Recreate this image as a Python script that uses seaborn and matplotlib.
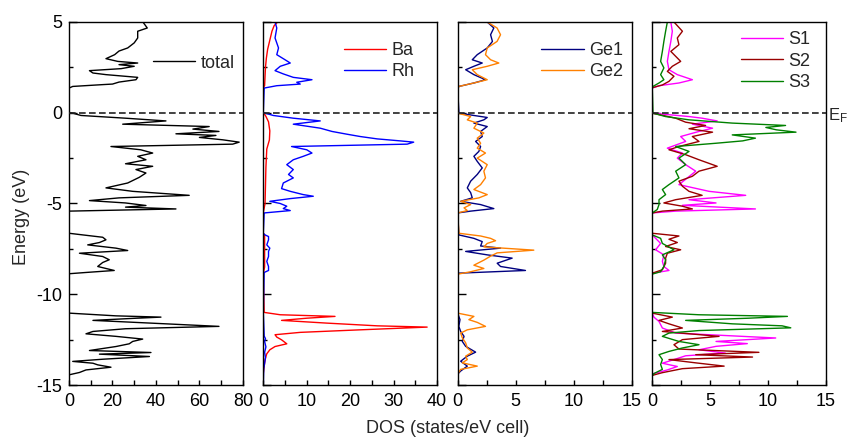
import seaborn as sns
import matplotlib.pyplot as plt
from matplotlib.ticker import MultipleLocator

# total DOS (energy in eV, DOS in states/eV cell)
total_E = [5.0, 4.67, 4.49, 4.12, 3.85, 3.57, 3.4, 3.2, 2.98, 2.83,
           2.74, 2.65, 2.56, 2.43, 2.32, 2.19, 2.1, 1.95, 1.82, 1.69,
           1.58, 1.55, 1.45, 1.36, 0.02, -0.02, -0.15, -0.3, -0.45, -0.63,
           -0.76, -0.9, -1.03, -1.16, -1.25, -1.36, -1.49, -1.62, -1.73, -1.86,
           -2.04, -2.22, -2.4, -2.59, -2.81, -2.95, -3.13, -3.32, -3.56, -3.87,
           -4.14, -4.33, -4.55, -4.69, -4.84, -4.97, -5.11, -5.2, -5.3, -5.42,
           -6.64, -6.73, -6.86, -7.0, -7.15, -7.28, -7.46, -7.59, -7.74, -7.92,
           -8.1, -8.25, -8.47, -8.69, -8.8, -8.87, -11.04, -11.19, -11.26, -11.33,
           -11.44, -11.63, -11.77, -11.9, -12.05, -12.18, -12.32, -12.47, -12.6, -12.73,
           -12.88, -13.1, -13.21, -13.3, -13.43, -13.58, -13.7, -13.8, -13.89, -14.02,
           -14.17, -14.31, -14.44, -15.0]
total_dos = [34, 36, 31.6, 31.6, 30, 27, 23, 21, 17, 22.4,
             31.6, 23, 30, 24, 9.4, 11, 17, 31.6, 30.8, 23,
             20, 15.5, 1.7, 0, 0, 1.7, 5.5, 26, 44.6, 24.7,
             64.5, 57, 69, 49.2, 67.6, 60, 70.7, 78.3, 75.3, 19.3,
             33, 38.5, 31.6, 35.4, 26, 38.5, 30.8, 35.4, 32.3, 27,
             17, 29.3, 55.3, 23, 9.4, 26, 35.4, 26, 49.2, 0,
             0, 6.3, 15.5, 17, 14, 8.6, 21.6, 27, 4.8, 15.5,
             18.5, 15.5, 13.2, 20.8, 7.8, 0, 0, 21.6, 42.3, 29.3,
             11, 44.6, 69, 26, 11, 7.8, 21.6, 33.9, 29.3, 27.7,
             21.6, 9.4, 37.7, 14, 37, 15.5, 1.7, 11, 13.2, 19.3,
             7.8, 4.8, 0, 0]

ba_E = [5.0, 4.8, 4.5, 4.0, 3.5, 3.0, 2.5, 2.0, 1.5, 1.36,
        0.02, -0.2, -0.5, -1.0, -1.5, -2.0, -3.0, -4.0, -5.0, -5.5,
        -6.64, -6.75, -7.5, -8.5, -8.85, -11.0, -11.13, -11.22, -11.32, -11.44,
        -11.59, -11.74, -11.81, -11.96, -12.1, -12.23, -12.36, -12.51, -12.73, -12.88,
        -13.06, -13.28, -13.61, -13.98, -14.35, -15.0]
ba_dos = [3.3, 2.5, 2.0, 1.5, 1.0, 0.7, 0.5, 0.4, 0.3, 0,
          0, 0.6, 1.2, 1.5, 1.4, 0.8, 0.6, 0.5, 0.4, 0,
          0, 0.3, 0.3, 0.3, 0, 0.2, 3.9, 16.5, 10, 4.2,
          14.6, 26.2, 37.7, 22.3, 8.5, 2.7, 3.1, 4.2, 5.4, 2.7,
          1.5, 0.8, 0.4, 0.2, 0, 0]

rh_E = [5.0, 4.67, 4.12, 3.57, 3.2, 2.92, 2.74, 2.56, 2.32, 2.14,
        1.95, 1.82, 1.68, 1.58, 1.49, 1.36, 0.02, -0.02, -0.15, -0.3,
        -0.45, -0.63, -0.85, -1.03, -1.18, -1.31, -1.44, -1.55, -1.62, -1.73,
        -1.86, -2.04, -2.22, -2.4, -2.59, -2.86, -3.13, -3.4, -3.59, -3.87,
        -4.18, -4.33, -4.51, -4.6, -4.73, -4.88, -5.0, -5.15, -5.28, -5.39,
        -5.52, -6.64, -6.73, -6.82, -7.0, -7.28, -7.46, -7.64, -7.92, -8.19,
        -8.47, -8.69, -8.8, -11.0, -12.3, -12.45, -12.6, -12.9, -13.2, -13.5,
        -13.8, -14.1, -15.0]
rh_dos = [2.7, 3.1, 2.7, 3.5, 3.1, 5.0, 6.2, 3.9, 2.7, 4.6,
          6.9, 11.2, 7.7, 8.5, 3.1, 0.2, 0, 0.4, 2.3, 6.9,
          13.1, 6.9, 13.1, 15.8, 19.2, 22.3, 26.2, 31.5, 34.6, 33.1,
          6.5, 10, 11.2, 9.2, 6.9, 5.4, 6.9, 5.8, 6.9, 4.6,
          4.2, 6.2, 9.2, 11.5, 6.2, 1.5, 3.9, 5.4, 4.6, 6.2,
          0.2, 0, 0.4, 1.2, 1.2, 0.8, 1.5, 1.2, 1.2, 0.8,
          1.2, 1.2, 0.2, 0, 0.2, 0.5, 0.3, 0.6, 0.3, 0.5,
          0.3, 0.1, 0]

ge1_E = [5.0, 4.67, 4.3, 3.93, 3.57, 3.2, 2.92, 2.74, 2.56, 2.37,
         2.1, 1.82, 1.64, 1.45, 1.33, -0.02, -0.15, -0.26, -0.39, -0.57,
         -0.76, -1.03, -1.31, -1.58, -1.86, -2.13, -2.4, -2.68, -3.04, -3.4,
         -3.77, -4.14, -4.4, -4.69, -4.88, -5.06, -5.28, -5.42, -5.52, -6.73,
         -6.92, -7.1, -7.34, -7.46, -7.64, -7.83, -8.01, -8.29, -8.47, -8.69,
         -8.84, -11.04, -11.4, -11.77, -12.05, -12.32, -12.6, -12.87, -13.19, -13.41,
         -13.69, -13.96, -14.23, -14.4, -15.0]
ge1_dos = [2.55, 3.12, 2.84, 3.0, 2.55, 1.69, 1.26, 2.12, 1.4, 0.69,
           1.4, 2.4, 1.4, 0.11, 0, 0.11, 1.4, 2.55, 2.26, 1.4,
           2.55, 1.98, 2.12, 1.55, 1.98, 1.83, 1.4, 1.69, 2.12, 1.69,
           1.12, 0.83, 1.12, 1.26, 0.26, 1.98, 3.12, 1.12, 0, 0.1,
           1.4, 2.12, 1.98, 3.7, 0.69, 2.55, 4.7, 3.41, 3.7, 5.85,
           0, 0, 0.2, 0.1, 0.26, 0.55, 0.4, 0.69, 1.55, 0.83,
           0.26, 0.83, 0.26, 0, 0]

ge2_E = [5.0, 4.67, 4.3, 3.93, 3.57, 3.2, 2.92, 2.74, 2.56, 2.37,
         2.1, 1.82, 1.64, 1.45, 1.33, -0.02, -0.21, -0.39, -0.57, -0.85,
         -1.12, -1.4, -1.68, -1.95, -2.22, -2.5, -2.86, -3.22, -3.59, -3.96,
         -4.23, -4.51, -4.69, -4.88, -5.06, -5.24, -5.39, -5.52, -6.64, -6.79,
         -6.92, -7.05, -7.2, -7.39, -7.57, -7.72, -7.9, -8.12, -8.4, -8.58,
         -8.76, -8.89, -11.04, -11.22, -11.4, -11.55, -11.77, -11.96, -12.14, -12.4,
         -12.68, -12.96, -13.19, -13.41, -13.6, -13.78, -13.96, -14.14, -14.4, -15.0]
ge2_dos = [2.55, 3.4, 3.7, 3.4, 2.55, 2.4, 2.84, 3.55, 2.55, 1.26,
           1.69, 2.55, 1.4, 0.11, 0, 0, 1.12, 0.83, 1.69, 1.4,
           2.26, 1.69, 1.98, 1.69, 2.4, 1.69, 2.55, 2.26, 2.4, 1.98,
           1.4, 2.55, 1.83, 0.26, 1.12, 0.55, 0.83, 0, 0.11, 1.98,
           2.84, 3.27, 2.55, 2.26, 6.57, 3.41, 2.84, 2.26, 1.4, 2.26,
           1.12, 0.03, 0, 1.4, 0.97, 1.69, 2.4, 0.83, 0.26, 0.4,
           0.69, 0.83, 1.26, 0.69, 0.83, 0.4, 1.69, 0.26, 0, 0]

s1_E = [5.0, 4.49, 3.93, 3.38, 2.83, 2.37, 2.1, 1.82, 1.64, 1.49,
        1.36, -0.02, -0.21, -0.3, -0.45, -0.63, -0.85, -1.03, -1.31, -1.58,
        -1.95, -2.22, -2.5, -2.86, -3.22, -3.59, -3.96, -4.33, -4.55, -4.79,
        -4.97, -5.1, -5.3, -5.42, -5.52, -6.73, -7.2, -7.55, -7.83, -8.19,
        -8.47, -8.69, -8.84, -11.04, -11.26, -11.5, -11.86, -12.14, -12.41, -12.6,
        -12.72, -12.87, -13.06, -13.24, -13.39, -13.57, -13.8, -13.98, -14.17, -14.39,
        -15.0]
s1_dos = [1.6, 1.73, 1.6, 1.44, 1.3, 1.44, 2.16, 3.46, 2.3, 0.58,
          0, 0, 3.17, 4.3, 5.6, 3.46, 5.2, 4.03, 2.45, 2.88,
          1.3, 2.6, 2.16, 2.88, 3.75, 3.03, 2.3, 4.9, 8.06, 3.17,
          5.5, 2.6, 8.9, 2.02, 0, 0, 0.72, 0.29, 1.0, 0.87,
          1.0, 1.44, 0, 0, 0.14, 0.58, 0.87, 2.02, 10.65, 5.5,
          8.2, 5.5, 4.03, 6.3, 2.88, 2.02, 0.87, 2.16, 1.3, 0,
          0]

s2_E = [5.0, 4.49, 4.12, 3.75, 3.38, 2.83, 2.56, 2.28, 2.01, 1.73,
        1.53, 1.38, -0.02, -0.3, -0.52, -0.7, -0.88, -1.07, -1.31, -1.58,
        -1.86, -2.04, -2.31, -2.59, -2.95, -3.22, -3.5, -3.77, -4.05, -4.33,
        -4.55, -4.79, -4.97, -5.15, -5.3, -5.42, -5.52, -6.64, -6.79, -6.97,
        -7.15, -7.37, -7.55, -7.74, -8.01, -8.29, -8.65, -8.84, -11.04, -11.26,
        -11.44, -11.63, -11.86, -12.05, -12.32, -12.5, -12.78, -13.02, -13.2, -13.33,
        -13.46, -13.6, -13.78, -13.96, -14.1, -14.32, -14.47, -15.0]
s2_dos = [1.87, 2.6, 2.16, 2.3, 1.6, 2.45, 1.73, 1.3, 1.87, 1.44,
          0.87, 0, 0, 2.02, 2.88, 4.6, 3.17, 5.2, 3.46, 4.03,
          2.3, 1.44, 2.88, 4.03, 5.6, 4.03, 3.46, 2.3, 2.6, 3.17,
          4.3, 2.02, 1.0, 2.6, 3.46, 0.87, 0, 0, 2.3, 1.44,
          2.16, 1.15, 2.45, 1.3, 1.15, 1.15, 0.87, 0, 0, 1.73,
          0.58, 1.44, 2.6, 0.87, 5.76, 2.6, 1.87, 2.3, 9.2, 3.75,
          8.65, 1.44, 3.75, 6.2, 2.6, 0.87, 0, 0]

s3_E = [5.0, 4.49, 3.93, 3.38, 2.83, 2.47, 2.1, 1.82, 1.64, 1.45,
        1.33, -0.02, -0.21, -0.39, -0.57, -0.7, -0.81, -0.94, -1.07, -1.22,
        -1.4, -1.55, -1.68, -1.86, -2.13, -2.5, -2.86, -3.22, -3.59, -3.96,
        -4.23, -4.51, -4.79, -5.06, -5.33, -5.52, -6.73, -6.92, -7.2, -7.55,
        -7.83, -8.1, -8.47, -8.76, -8.89, -11.0, -11.13, -11.22, -11.32, -11.44,
        -11.63, -11.74, -11.85, -12.0, -12.14, -12.32, -12.6, -12.78, -12.96, -13.15,
        -13.33, -13.6, -13.87, -14.14, -14.37, -14.5, -15.0]
s3_dos = [1.3, 1.15, 1.0, 0.87, 0.72, 1.0, 0.72, 1.0, 0.58, 0.06,
          0, 0.06, 1.15, 3.17, 6.9, 11.5, 9.8, 10.7, 12.4, 6.9,
          8.9, 7.8, 5.5, 2.02, 3.17, 2.3, 2.88, 2.02, 2.3, 1.44,
          0.87, 1.15, 0.58, 0.58, 0.43, 0, 0, 0.72, 0.87, 1.87,
          0.87, 1.15, 1.0, 0.72, 0, 0, 4.03, 11.66, 8.3, 2.88,
          6.9, 11.2, 11.95, 4.03, 1.44, 0.87, 2.3, 4.03, 2.6, 1.44,
          0.58, 0.87, 0.72, 0.87, 0.14, 0, 0]

sns.set_style('ticks')
plt.rcParams['font.family'] = ['Liberation Sans', 'DejaVu Sans']
plt.rcParams['axes.unicode_minus'] = False
plt.rcParams['mathtext.default'] = 'regular'

fig = plt.figure(figsize=(8.48, 4.4), dpi=100)

# (left, xmax, major, minor, legend anchor, curves)
panels = [
    (0.0814, 80, 20, 10, (0.483, 0.91),
     [(total_dos, total_E, 'total', 'black')]),
    (0.3105, 40, 10, 5, (0.465, 0.945),
     [(ba_dos, ba_E, 'Ba', '#ff0000'), (rh_dos, rh_E, 'Rh', '#0000ff')]),
    (0.5397, 15, 5, 2.5, (0.482, 0.945),
     [(ge1_dos, ge1_E, 'Ge1', '#000080'), (ge2_dos, ge2_E, 'Ge2', '#ff8000')]),
    (0.7692, 15, 5, 2.5, (0.509, 0.975),
     [(s1_dos, s1_E, 'S1', '#ff00ff'), (s2_dos, s2_E, 'S2', '#990000'),
      (s3_dos, s3_E, 'S3', '#008000')]),
]

for i, (left, xmax, major, minor, anchor, curves) in enumerate(panels):
    ax = fig.add_axes([left, 0.125, 0.205, 0.825])
    for dos, en, name, col in curves:
        sns.lineplot(x=dos, y=en, orient='y', sort=False, estimator=None,
                     color=col, lw=1.0, label=name, ax=ax)
    ax.axhline(0, color='#222222', ls=(0, (4, 2)), lw=1.2, zorder=5)
    ax.set_xlim(0, xmax)
    ax.set_ylim(-15, 5)
    ax.xaxis.set_major_locator(MultipleLocator(major))
    ax.xaxis.set_minor_locator(MultipleLocator(minor))
    ax.yaxis.set_major_locator(MultipleLocator(5))
    ax.yaxis.set_minor_locator(MultipleLocator(2.5))
    ax.tick_params(which='both', direction='in', top=False, right=False,
                   width=1, colors='black', labelsize=13)
    ax.tick_params(axis='y', which='major', length=5.5, pad=5)
    ax.tick_params(axis='y', which='minor', length=3)
    ax.tick_params(axis='x', which='both', length=3.5, pad=6)
    if i > 0:
        ax.tick_params(labelleft=False)
    for sp in ax.spines.values():
        sp.set_color('black')
        sp.set_linewidth(1.0)
    ax.set_xlabel('')
    ax.set_ylabel('')
    ax.legend(loc='upper left', bbox_to_anchor=anchor, frameon=False,
              fontsize=13, handlelength=2.33, handletextpad=0.3,
              labelspacing=0.25, borderpad=0, borderaxespad=0)

fig.text(22 / 848, 1 - 217 / 440, 'Energy (eV)', rotation=90,
         ha='center', va='center', fontsize=13)
fig.text(448 / 848, 1 - 428 / 440, 'DOS (states/eV cell)',
         ha='center', va='center', fontsize=13)
fig.text(828 / 848, 1 - 116 / 440, 'E$_F$', ha='left', va='center', fontsize=12)

fig.savefig('out.png', dpi=100)
